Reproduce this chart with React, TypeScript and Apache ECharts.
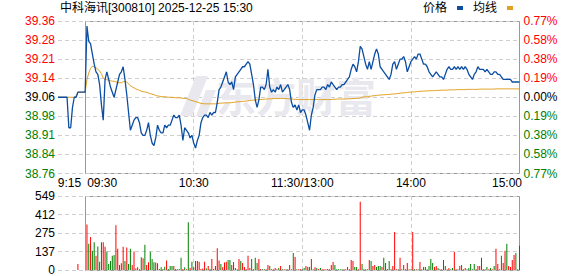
import React, { useEffect, useRef } from 'react';
import * as echarts from 'echarts';

// ---------- texts / ticks ----------
const chartTitle = '中科海讯[300810] 2025-12-25 15:30';
const seriesNames = ['价格', '均线'];
const priceAxisMin = 38.76;
const priceAxisMax = 39.36;
const priceTicks = ['38.76', '38.84', '38.91', '38.98', '39.06', '39.14', '39.21', '39.28', '39.36'];
const pctTicks = ['0.77%', '0.58%', '0.38%', '0.19%', '0.00%', '0.19%', '0.38%', '0.58%', '0.77%'];
const volTicks = ['0', '137', '275', '412', '549'];
const volMax = 549;
const xTickIndex = [0, 15, 75, 135, 195, 255];
const xTickText = ['9:15', '09:30', '10:30', '11:30/13:00', '14:00', '15:00'];
const xSplitIndex = [75, 135, 195];

// ---------- pre-market 9:15-9:29 ----------
const prePrice = [39.06, 39.06, 39.06, 39.06, 39.06, 39.06, 38.94, 38.94, 39.02, 39.06, 39.06, 39.08, 39.08, 39.08, 39.08];
const preAvg = [39.06, 39.06, 39.06, 39.06, 39.06, 39.06, 39.06, 39.06, 39.06, 39.06, 39.065, 39.08, 39.08, 39.08, 39.08];
const preVol: [number, string][] = [
  [0, 'r'], [0, 'r'], [0, 'r'], [0, 'r'], [0, 'r'], [0, 'r'], [0, 'r'], [0, 'r'], [0, 'r'], [0, 'r'],
  [0, 'r'], [45, 'r'], [0, 'r'], [0, 'r'], [0, 'r'],
];

// ---------- morning 9:30-11:30 ----------
const amPrice = [
  39.08, 39.34, 39.28, 39.27, 39.23, 39.19, 39.16, 39.15, 39.11, 39.03,
  38.97, 39.13, 39.16, 39.13, 39.10, 39.08, 39.06, 39.09, 39.12, 39.15,
  39.16, 39.18, 39.13, 39.07, 39.00, 38.93, 38.95, 38.97, 38.98, 38.98,
  38.96, 38.92, 38.91, 38.91, 38.93, 38.96, 38.91, 38.88, 38.87, 38.90,
  38.95, 38.93, 38.92, 38.92, 38.95, 38.94, 38.95, 38.95, 38.97, 38.99,
  38.98, 38.98, 38.99, 38.95, 38.89, 38.94, 38.93, 38.92, 38.90, 38.91,
  38.88, 38.86, 38.89, 38.91, 38.96, 38.98, 38.99, 38.99, 38.98, 39.00,
  38.99, 39.00, 39.00, 39.04, 39.09, 39.10, 39.12, 39.14, 39.16, 39.12,
  39.11, 39.12, 39.09, 39.14, 39.15, 39.16, 39.17, 39.18, 39.18, 39.19,
  39.20, 39.19, 39.15, 39.11, 39.05, 39.02, 39.05, 39.10, 39.10, 39.09,
  39.11, 39.17, 39.10, 39.08, 39.09, 39.08, 39.10, 39.09, 39.11, 39.08,
  39.09, 39.10, 39.11, 39.09, 39.04, 39.02, 39.03, 39.01, 39.03, 39.00,
  39.01,
];
const amAvg = [
  39.080, 39.129, 39.156, 39.174, 39.182, 39.180, 39.176, 39.170, 39.164, 39.152,
  39.136, 39.130, 39.129, 39.127, 39.125, 39.123, 39.123, 39.121, 39.117, 39.117,
  39.117, 39.121, 39.123, 39.119, 39.113, 39.105, 39.101, 39.097, 39.093, 39.090,
  39.087, 39.084, 39.082, 39.081, 39.079, 39.077, 39.074, 39.072, 39.070, 39.067,
  39.065, 39.064, 39.062, 39.062, 39.062, 39.061, 39.060, 39.060, 39.060, 39.059,
  39.058, 39.058, 39.058, 39.057, 39.056, 39.055, 39.055, 39.052, 39.049, 39.047,
  39.045, 39.043, 39.041, 39.038, 39.036, 39.035, 39.034, 39.034, 39.034, 39.034,
  39.034, 39.034, 39.034, 39.035, 39.036, 39.037, 39.037, 39.038, 39.038, 39.038,
  39.038, 39.039, 39.040, 39.041, 39.042, 39.042, 39.043, 39.044, 39.044, 39.045,
  39.046, 39.047, 39.048, 39.049, 39.049, 39.050, 39.051, 39.051, 39.052, 39.052,
  39.053, 39.053, 39.054, 39.054, 39.055, 39.055, 39.055, 39.055, 39.055, 39.055,
  39.055, 39.055, 39.054, 39.054, 39.053, 39.052, 39.052, 39.051, 39.051, 39.051,
  39.051,
];
const amVol: [number, string][] = [
  [0, 'r'], [337, 'r'], [195, 'g'], [245, 'r'], [142, 'g'], [205, 'g'], [105, 'r'], [175, 'g'], [62, 'g'], [205, 'g'],
  [205, 'r'], [172, 'r'], [137, 'g'], [45, 'g'], [67, 'g'], [105, 'g'], [112, 'g'], [332, 'r'], [157, 'r'], [37, 'r'],
  [50, 'r'], [172, 'r'], [67, 'g'], [167, 'r'], [45, 'g'], [157, 'g'], [37, 'r'], [137, 'r'], [12, 'r'], [20, 'r'],
  [5, 'g'], [95, 'g'], [87, 'r'], [187, 'g'], [37, 'r'], [57, 'r'], [135, 'g'], [82, 'g'], [57, 'g'], [55, 'r'],
  [50, 'r'], [7, 'g'], [20, 'g'], [7, 'g'], [25, 'g'], [70, 'r'], [7, 'g'], [30, 'g'], [30, 'g'], [30, 'r'],
  [7, 'g'], [5, 'r'], [7, 'g'], [90, 'g'], [7, 'r'], [20, 'g'], [5, 'r'], [354, 'g'], [15, 'r'], [62, 'g'],
  [20, 'r'], [67, 'r'], [67, 'r'], [62, 'r'], [7, 'r'], [12, 'r'], [62, 'r'], [12, 'g'], [30, 'r'], [7, 'g'],
  [82, 'r'], [7, 'g'], [30, 'r'], [162, 'r'], [70, 'r'], [45, 'g'], [20, 'r'], [55, 'r'], [62, 'r'], [75, 'g'],
  [75, 'g'], [37, 'r'], [60, 'r'], [15, 'g'], [5, 'g'], [82, 'r'], [67, 'g'], [52, 'r'], [22, 'r'], [5, 'r'],
  [105, 'r'], [15, 'r'], [82, 'g'], [5, 'g'], [90, 'g'], [52, 'g'], [82, 'r'], [7, 'r'], [5, 'g'], [5, 'g'],
  [5, 'r'], [37, 'r'], [30, 'g'], [5, 'g'], [5, 'r'], [15, 'r'], [5, 'r'], [15, 'g'], [30, 'r'], [5, 'g'],
  [5, 'r'], [5, 'g'], [5, 'r'], [37, 'r'], [5, 'g'], [127, 'g'], [97, 'r'], [5, 'g'], [5, 'r'], [5, 'r'],
  [5, 'g'],
];

// ---------- afternoon 13:01-15:00 ----------
const pmPrice = [
  39.01, 38.99, 38.96, 38.93, 38.99, 39.02, 39.07, 39.09, 39.09, 39.09,
  39.10, 39.10, 39.09, 39.11, 39.10, 39.12, 39.11, 39.10, 39.09, 39.10,
  39.10, 39.11, 39.11, 39.12, 39.13, 39.14, 39.17, 39.19, 39.18, 39.16,
  39.20, 39.26, 39.25, 39.22, 39.19, 39.17, 39.20, 39.17, 39.20, 39.23,
  39.25, 39.23, 39.18, 39.17, 39.16, 39.15, 39.14, 39.13, 39.15, 39.19,
  39.20, 39.17, 39.19, 39.21, 39.21, 39.22, 39.20, 39.16, 39.18, 39.20,
  39.21, 39.22, 39.21, 39.23, 39.23, 39.21, 39.19, 39.19, 39.18, 39.16,
  39.15, 39.14, 39.15, 39.16, 39.15, 39.14, 39.14, 39.13, 39.15, 39.17,
  39.18, 39.17, 39.17, 39.18, 39.17, 39.18, 39.17, 39.18, 39.17, 39.18,
  39.17, 39.15, 39.14, 39.13, 39.15, 39.16, 39.18, 39.17, 39.17, 39.17,
  39.16, 39.17, 39.16, 39.15, 39.15, 39.16, 39.16, 39.15, 39.15, 39.14,
  39.13, 39.13, 39.13, 39.13, 39.13, 39.12, 39.12, 39.12, 39.12, 39.12,
];
const pmAvg = [
  39.051, 39.051, 39.051, 39.051, 39.051, 39.051, 39.051, 39.051, 39.051, 39.051,
  39.051, 39.051, 39.051, 39.051, 39.051, 39.051, 39.052, 39.052, 39.053, 39.053,
  39.053, 39.053, 39.053, 39.053, 39.054, 39.054, 39.054, 39.055, 39.055, 39.056,
  39.056, 39.057, 39.060, 39.061, 39.062, 39.062, 39.064, 39.064, 39.066, 39.066,
  39.067, 39.068, 39.069, 39.069, 39.070, 39.070, 39.071, 39.071, 39.072, 39.073,
  39.073, 39.074, 39.075, 39.076, 39.077, 39.077, 39.078, 39.079, 39.080, 39.080,
  39.081, 39.081, 39.082, 39.083, 39.083, 39.084, 39.084, 39.085, 39.085, 39.085,
  39.086, 39.086, 39.086, 39.087, 39.087, 39.087, 39.088, 39.088, 39.088, 39.088,
  39.089, 39.089, 39.089, 39.089, 39.090, 39.090, 39.090, 39.090, 39.090, 39.090,
  39.091, 39.091, 39.091, 39.091, 39.091, 39.091, 39.091, 39.092, 39.092, 39.092,
  39.092, 39.092, 39.092, 39.092, 39.092, 39.092, 39.093, 39.093, 39.093, 39.093,
  39.093, 39.093, 39.093, 39.093, 39.093, 39.093, 39.093, 39.093, 39.093, 39.093,
];
const pmVol: [number, string][] = [
  [15, 'g'], [30, 'r'], [22, 'g'], [22, 'g'], [82, 'r'], [5, 'g'], [20, 'r'], [15, 'g'], [7, 'r'], [15, 'g'],
  [5, 'r'], [5, 'r'], [5, 'r'], [7, 'r'], [5, 'g'], [37, 'r'], [60, 'r'], [37, 'g'], [5, 'g'], [5, 'g'],
  [5, 'g'], [5, 'g'], [5, 'r'], [5, 'r'], [22, 'r'], [5, 'g'], [75, 'r'], [67, 'r'], [22, 'g'], [22, 'g'],
  [5, 'r'], [506, 'r'], [45, 'g'], [5, 'g'], [5, 'g'], [5, 'r'], [75, 'r'], [67, 'g'], [30, 'r'], [37, 'r'],
  [22, 'g'], [30, 'g'], [30, 'g'], [22, 'r'], [90, 'g'], [52, 'g'], [7, 'r'], [67, 'g'], [5, 'g'], [30, 'r'],
  [282, 'r'], [5, 'r'], [5, 'g'], [90, 'r'], [5, 'g'], [37, 'r'], [5, 'r'], [52, 'r'], [5, 'r'], [5, 'g'],
  [282, 'r'], [5, 'g'], [5, 'r'], [5, 'g'], [60, 'r'], [5, 'g'], [22, 'g'], [22, 'g'], [5, 'g'], [30, 'g'],
  [82, 'g'], [52, 'g'], [22, 'r'], [30, 'r'], [15, 'g'], [5, 'r'], [5, 'r'], [75, 'g'], [30, 'g'], [5, 'r'],
  [15, 'r'], [5, 'g'], [15, 'g'], [135, 'r'], [5, 'r'], [5, 'g'], [30, 'r'], [37, 'g'], [5, 'r'], [15, 'r'],
  [5, 'g'], [15, 'g'], [45, 'g'], [5, 'g'], [45, 'g'], [5, 'r'], [30, 'r'], [30, 'r'], [90, 'g'], [5, 'r'],
  [5, 'g'], [22, 'g'], [5, 'r'], [15, 'g'], [5, 'r'], [30, 'g'], [157, 'r'], [45, 'r'], [5, 'g'], [105, 'g'],
  [52, 'r'], [142, 'r'], [195, 'g'], [30, 'r'], [22, 'r'], [75, 'r'], [112, 'r'], [127, 'g'], [5, 'g'], [180, 'r'],
];

// ---------- helpers ----------
const pad2 = (n: number) => (n < 10 ? '0' + n : '' + n);
function buildTimes(): string[] {
  const t: string[] = [];
  for (let m = 15; m < 30; m++) t.push('9:' + pad2(m));
  for (let m = 9 * 60 + 30; m <= 11 * 60 + 30; m++) t.push(Math.floor(m / 60) + ':' + pad2(m % 60));
  for (let m = 13 * 60 + 1; m <= 15 * 60; m++) t.push(Math.floor(m / 60) + ':' + pad2(m % 60));
  return t;
}

const FONT = '"Liberation Sans", Arial, "Noto Sans CJK SC", sans-serif';
const RED = '#ff0000';
const GREEN = '#008000';
const GRID_LINE = { color: '#cfcfcf', type: [4, 3] as number[], width: 1 };
const WATERMARK = '#e8e8ee';

export default function App() {
  const ref = useRef<HTMLDivElement>(null);
  useEffect(() => {
    if (!ref.current) return;
    const chart = echarts.init(ref.current, undefined, { renderer: 'svg' });
    const times = buildTimes();
    const toCents = (p: number) => Math.round((p - priceAxisMin) * 100000) / 1000;
    const span = (priceAxisMax - priceAxisMin) * 100;
    const step = span / 8;
    const priceData = [...prePrice, ...amPrice, ...pmPrice].map(toCents);
    const avgData = [...preAvg, ...amAvg, ...pmAvg].map(toCents);
    const vols = [...preVol, ...amVol, ...pmVol];
    const volStep = volMax / 4;
    const tickColor = (i: number) => (i > 4 ? RED : i < 4 ? GREEN : '#000');

    const xLabelFormatter = (_v: string, idx: number) => {
      const k = xTickIndex.indexOf(idx);
      if (k < 0) return '';
      if (k === 0) return '{l0|' + xTickText[k] + '}';
      if (k === 1) return '{l1|' + xTickText[k] + '}';
      if (k === xTickText.length - 1) return '{r|' + xTickText[k] + '}';
      return xTickText[k];
    };
    const richBase = { fontSize: 12, color: '#000', fontFamily: FONT };

    const option: any = {
      animation: false,
      backgroundColor: '#fff',
      textStyle: { fontFamily: FONT },
      title: {
        text: chartTitle,
        left: 60,
        top: 2,
        padding: 0,
        textStyle: { fontSize: 12, fontWeight: 'normal', color: '#000', fontFamily: FONT },
      },
      legend: {
        data: seriesNames.map((n) => ({ name: n, icon: 'rect' })),
        right: 65,
        top: 2,
        padding: 0,
        align: 'right',
        itemWidth: 6,
        itemHeight: 4,
        itemGap: 10,
        textStyle: { fontSize: 12, color: '#000', fontFamily: FONT, padding: [0, 5, 0, 0] },
      },
      grid: [
        { left: 58, right: 58.5, top: 21, height: 152.5 },
        { left: 58, right: 58.5, top: 196, height: 74 },
        { left: 85.5, right: 58.5, top: 21.5, height: 152, show: true, borderColor: '#999', borderWidth: 1, backgroundColor: 'transparent' },
        { left: 85.5, right: 58.5, top: 196.5, height: 74, show: true, borderColor: '#999', borderWidth: 1, backgroundColor: 'transparent' },
      ],
      xAxis: [
        {
          type: 'category', gridIndex: 0, data: times, boundaryGap: false,
          axisLine: { show: false }, axisTick: { show: false },
          axisLabel: {
            interval: (i: number) => xTickIndex.indexOf(i) >= 0,
            formatter: xLabelFormatter,
            margin: 3, fontSize: 12, color: '#000', fontFamily: FONT,
            rich: {
              l0: { ...richBase, padding: [0, 0, 0, 23] },
              l1: { ...richBase, padding: [0, 0, 0, 34] },
              r: { ...richBase, padding: [0, 25, 0, 0] },
            },
          },
          splitLine: { show: true, interval: (i: number) => xSplitIndex.indexOf(i) >= 0, lineStyle: GRID_LINE },
        },
        {
          type: 'category', gridIndex: 1, data: times, boundaryGap: false,
          axisLine: { show: false }, axisTick: { show: false }, axisLabel: { show: false },
          splitLine: { show: true, interval: (i: number) => xSplitIndex.indexOf(i) >= 0, lineStyle: GRID_LINE },
        },
        { type: 'value', gridIndex: 2, show: false },
        { type: 'value', gridIndex: 3, show: false },
      ],
      yAxis: [
        {
          type: 'value', gridIndex: 0, min: 0, max: span, interval: step, position: 'left',
          axisLine: { show: false }, axisTick: { show: false },
          axisLabel: {
            margin: 3, fontSize: 12, fontFamily: FONT,
            formatter: (v: number) => priceTicks[Math.round(v / step)],
            color: (v: any) => tickColor(Math.round(Number(v) / step)),
          },
          splitLine: { show: true, lineStyle: GRID_LINE },
        },
        {
          type: 'value', gridIndex: 0, min: 0, max: span, interval: step, position: 'right',
          axisLine: { show: false }, axisTick: { show: false },
          axisLabel: {
            margin: 4, fontSize: 12, fontFamily: FONT,
            formatter: (v: number) => pctTicks[Math.round(v / step)],
            color: (v: any) => tickColor(Math.round(Number(v) / step)),
          },
          splitLine: { show: false },
        },
        {
          type: 'value', gridIndex: 1, min: 0, max: volMax, interval: volStep, position: 'left',
          axisLine: { show: false }, axisTick: { show: false },
          axisLabel: {
            margin: 3, fontSize: 12, fontFamily: FONT, color: '#000',
            formatter: (v: number) => volTicks[Math.round(v / volStep)],
          },
          splitLine: { show: true, lineStyle: GRID_LINE },
        },
        { type: 'value', gridIndex: 2, show: false },
        { type: 'value', gridIndex: 3, show: false },
      ],
      graphic: [
        {
          type: 'polygon', z: 1, silent: true,
          shape: { points: [[180, 116], [196, 76], [208, 76], [192, 116]] },
          style: { fill: WATERMARK },
        },
        {
          type: 'polygon', z: 1, silent: true,
          shape: { points: [[196, 116], [206, 90], [216, 90], [206, 116]] },
          style: { fill: WATERMARK },
        },
        {
          type: 'text', z: 1, silent: true, left: 216, top: 75,
          style: { text: '东方财富', fontSize: 40, fontWeight: 'bold', fill: WATERMARK, fontFamily: '"Noto Sans CJK SC", sans-serif' },
        },
      ],
      series: [
        {
          name: seriesNames[1], type: 'line', xAxisIndex: 0, yAxisIndex: 0, data: avgData,
          showSymbol: false, symbol: 'none', color: '#e0a020', itemStyle: { color: '#e0a020' },
          lineStyle: { color: '#e0a020', width: 1 }, z: 3,
        },
        {
          name: seriesNames[0], type: 'line', xAxisIndex: 0, yAxisIndex: 0, data: priceData,
          showSymbol: false, symbol: 'none', color: '#0b4ea2', itemStyle: { color: '#0b4ea2' },
          lineStyle: { color: '#0b4ea2', width: 1.3 }, z: 4,
        },
        {
          name: '成交量', type: 'bar', xAxisIndex: 1, yAxisIndex: 2,
          data: vols.map((v) => v[0]),
          barWidth: 1,
          itemStyle: { color: (p: any) => (vols[p.dataIndex][1] === 'r' ? RED : GREEN) },
          z: 3,
        },
      ],
    };
    chart.setOption(option);
    return () => chart.dispose();
  }, []);
  return <div ref={ref} style={{ position: 'absolute', left: 0, top: 0, width: 578, height: 276 }} />;
}
